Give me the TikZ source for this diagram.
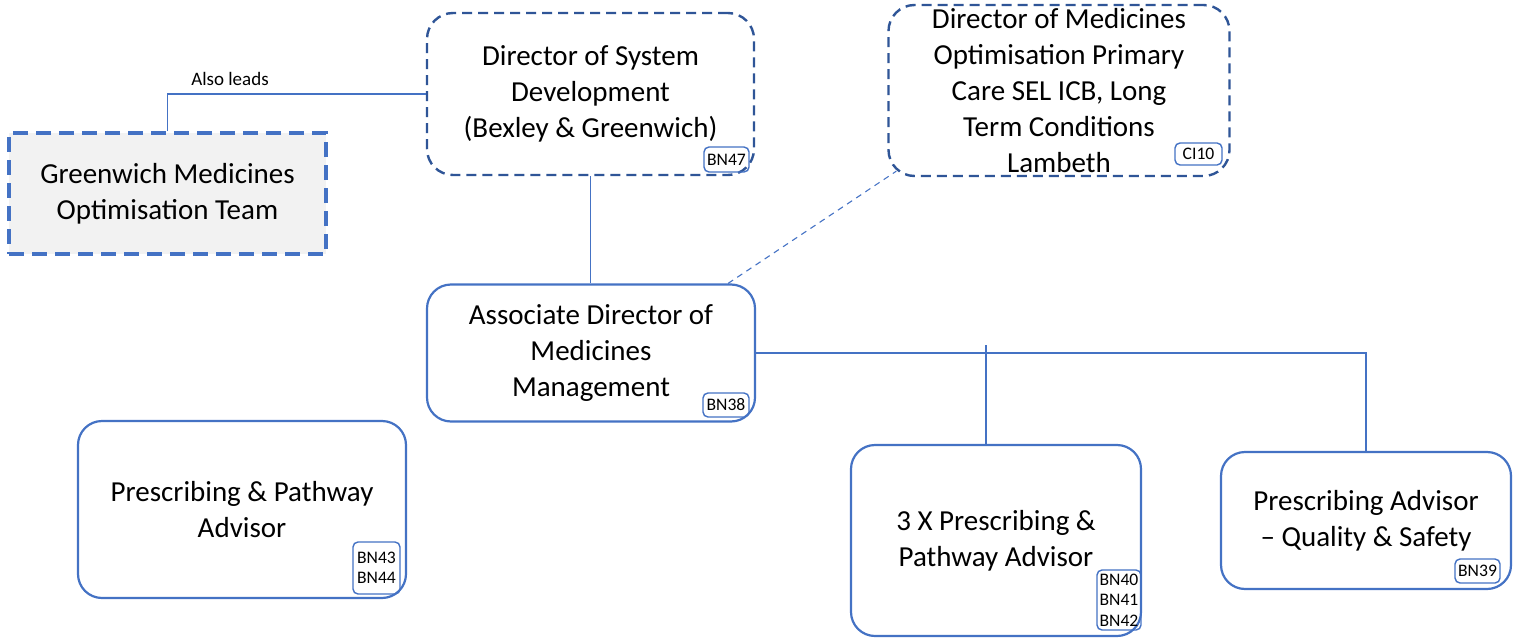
\documentclass[tikz,border=0pt]{standalone}
\usepackage{fontspec}
\setmainfont{Carlito}
\usetikzlibrary{calc}
\definecolor{mblue}{HTML}{4472C4}
\definecolor{dblue}{HTML}{2F5597}
\definecolor{gfill}{HTML}{F2F2F2}
\begin{document}
\begin{tikzpicture}[x=0.5pt,y=-0.5pt,
  every node/.style={font=\fontsize{14.5}{17.9}\selectfont, align=center, inner sep=0pt},
  solidbox/.style={draw=mblue, line width=1.1pt, rounded corners=12pt, fill=white},
  dirbox/.style={draw=dblue, line width=1.2pt, dash pattern=on 5pt off 3pt, rounded corners=13pt, fill=white},
  gwbox/.style={draw=mblue, line width=2pt, dash pattern=on 7.5pt off 4pt, fill=gfill},
  tagbox/.style={draw=mblue, line width=0.7pt, rounded corners=2.5pt, font=\fontsize{8.8}{10.2}\selectfont, inner sep=0.5pt},
  conn/.style={draw=mblue, line width=0.55pt},
  dconn/.style={draw=mblue, line width=0.55pt, dash pattern=on 3pt off 2.5pt}
]
\useasboundingbox (0,0) rectangle (1519,642);

% connectors drawn first (behind boxes)
\node[gwbox, minimum width=158.5pt, minimum height=60.5pt] (gw) at (167.5,193.5) {Greenwich Medicines\\Optimisation Team};
\node[dirbox, minimum width=163.5pt, minimum height=81pt] (dsd) at (590.5,94) {Director of System\\Development\\(Bexley \& Greenwich)};
\node[dirbox, minimum width=170.5pt, minimum height=85.5pt] (dmo) at (1059,90.5) {Director of Medicines\\Optimisation Primary\\Care SEL ICB, Long\\Term Conditions\\Lambeth};
\node[solidbox, minimum width=164pt, minimum height=68.5pt] (adm) at (591,353) {Associate Director of\\Medicines\\Management};
\node[solidbox, minimum width=164pt, minimum height=88.5pt] (ppa) at (242,509.5) {Prescribing \& Pathway\\Advisor};
\node[solidbox, minimum width=145pt, minimum height=95.5pt] (x3) at (996,540.5) {3 X Prescribing \&\\Pathway Advisor};
\node[solidbox, minimum width=145pt, minimum height=68.5pt] (pqs) at (1366,520.5) {Prescribing Advisor\\– Quality \& Safety};

% tags
\node[tagbox, minimum width=22.5pt, minimum height=12.5pt] (t47) at (726.5,159.5) {BN47};
\node[tagbox, minimum width=23.5pt, minimum height=11pt] (t10) at (1198.5,154) {CI10};
\node[tagbox, minimum width=23pt, minimum height=12pt] (t38) at (726,405) {BN38};
\node[tagbox, minimum width=23.5pt, minimum height=26pt] (t43) at (376.5,568) {BN43\\BN44};
\node[tagbox, minimum width=22pt, minimum height=30pt] (t40) at (1119,600) {BN40\\BN41\\BN42};
\node[tagbox, minimum width=22.5pt, minimum height=12pt] (t39) at (1477.5,571) {BN39};

% connectors
\draw[conn] (gw.north) |- (dsd.west);
\node[font=\fontsize{9.5}{11}\selectfont] (al) at (230,79) {Also leads};
\draw[conn] (dsd.south) -- (dsd.south |- adm.north);
\draw[dconn] ($(adm.north east)+(-28,0)$) -- ($(dmo.south west)+(9,-6)$);
\draw[conn] (adm.east) -| (pqs.north);
\coordinate (j) at (986,345);
\draw[conn] (j) -- (j |- x3.north);
\end{tikzpicture}
\end{document}
